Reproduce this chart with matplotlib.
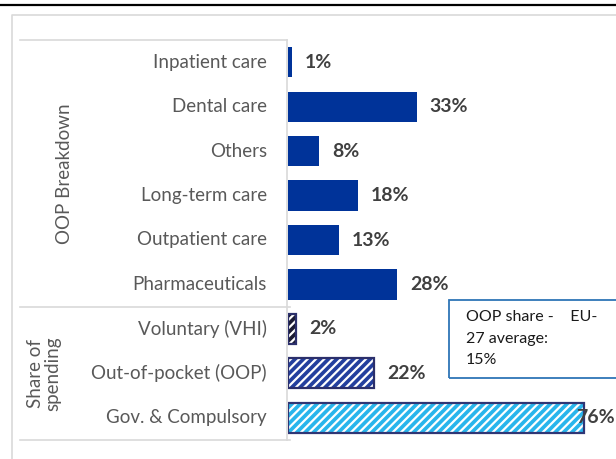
import matplotlib.pyplot as plt
from matplotlib.patches import Rectangle
from matplotlib.lines import Line2D

# -------- data --------
categories = ["Inpatient care", "Dental care", "Others", "Long-term care",
              "Outpatient care", "Pharmaceuticals",
              "Voluntary (VHI)", "Out-of-pocket (OOP)", "Gov. & Compulsory"]
values = [1, 33, 8, 18, 13, 28, 2, 22, 76]
groups = ["OOP Breakdown", "Share of\nspending"]
group_sizes = [6, 3]
note_text = "OOP share -    EU-\n27 average:\n15%"
# ----------------------

plt.rcParams["font.family"] = ["Lato", "DejaVu Sans"]
plt.rcParams["hatch.linewidth"] = 1.6

W, H = 616, 459
fig = plt.figure(figsize=(W / 100, H / 100), dpi=100)


def fx(px):
    return px / W


def fy(py):
    return 1 - py / H


# top black rule and light chart frame
fig.add_artist(Line2D([0, 1], [fy(5), fy(5)], color="black", lw=1.6))
fig.add_artist(Line2D([fx(12), fx(12), 1], [0, fy(15), fy(15)],
                      color="#d9d9d9", lw=1.2))

# bars axis
x0, x1 = 288, W
px_per_pct = 3.9
ax = fig.add_axes([fx(x0), fy(440), fx(x1 - x0), (440 - 40) / H])
xmax = (x1 - x0) / px_per_pct
ax.set_xlim(0, xmax)
ax.set_ylim(len(categories) - 0.5, -0.5)
ax.axis("off")

solid = "#003399"
styles = [dict(fc=solid, hatch=None, ec=solid)] * 6 + [
    dict(fc="#1b1b33", hatch="////", ec="#2b2f6b"),
    dict(fc="#233f9e", hatch="////", ec="#2b2f6b"),
    dict(fc="#29b5ec", hatch="////", ec="#2f3675"),
]

bh = 0.68
for i, (v, st) in enumerate(zip(values, styles)):
    if st["hatch"]:
        ax.barh(i, v, height=bh, color=st["fc"], edgecolor="white",
                hatch=st["hatch"], linewidth=0)
        ax.barh(i, v, height=bh, fill=False, edgecolor=st["ec"], linewidth=1.6)
    else:
        ax.barh(i, v, height=bh, color=st["fc"], linewidth=0)
    lx = v + 13 / px_per_pct
    if lx + 38 / px_per_pct > xmax:
        ax.text(xmax - 1 / px_per_pct, i, f"{v}%", va="center", ha="right",
                fontsize=14, fontweight="bold", color="#404040")
    else:
        ax.text(lx, i, f"{v}%", va="center", ha="left", fontsize=14,
                fontweight="bold", color="#404040")

# category labels
for i, c in enumerate(categories):
    ax.text(-21 / px_per_pct, i, c, ha="right", va="center",
            fontsize=13.5, color="#595959", clip_on=False)

# group separators
sep = "#d9d9d9"
fig.add_artist(Line2D([fx(20), fx(287)], [fy(40), fy(40)], color=sep, lw=1.2))
fig.add_artist(Line2D([fx(20), fx(290)], [fy(307), fy(307)], color=sep, lw=1.2))
fig.add_artist(Line2D([fx(20), fx(290)], [fy(440), fy(440)], color=sep, lw=1.2))
fig.add_artist(Line2D([fx(287), fx(287)], [fy(40), fy(440)], color=sep, lw=1.2))

# group labels
start = 0
gx = [64, 44]
for g, n, x in zip(groups, group_sizes, gx):
    ax.text(-(x0 - x) / px_per_pct, start + (n - 1) / 2, g, rotation=90,
            ha="center", va="center", fontsize=13.5, color="#595959",
            linespacing=1.0, clip_on=False)
    start += n

# note box
fig.add_artist(Rectangle((fx(449), fy(378)), fx(W + 10 - 449), (378 - 300) / H,
                         fill=False, edgecolor="#2e75b6", lw=1.3))
fig.text(fx(466), fy(310), note_text, ha="left", va="top", fontsize=11.5,
         color="#1a1a1a", linespacing=1.7)

fig.savefig("out.png", dpi=100)
